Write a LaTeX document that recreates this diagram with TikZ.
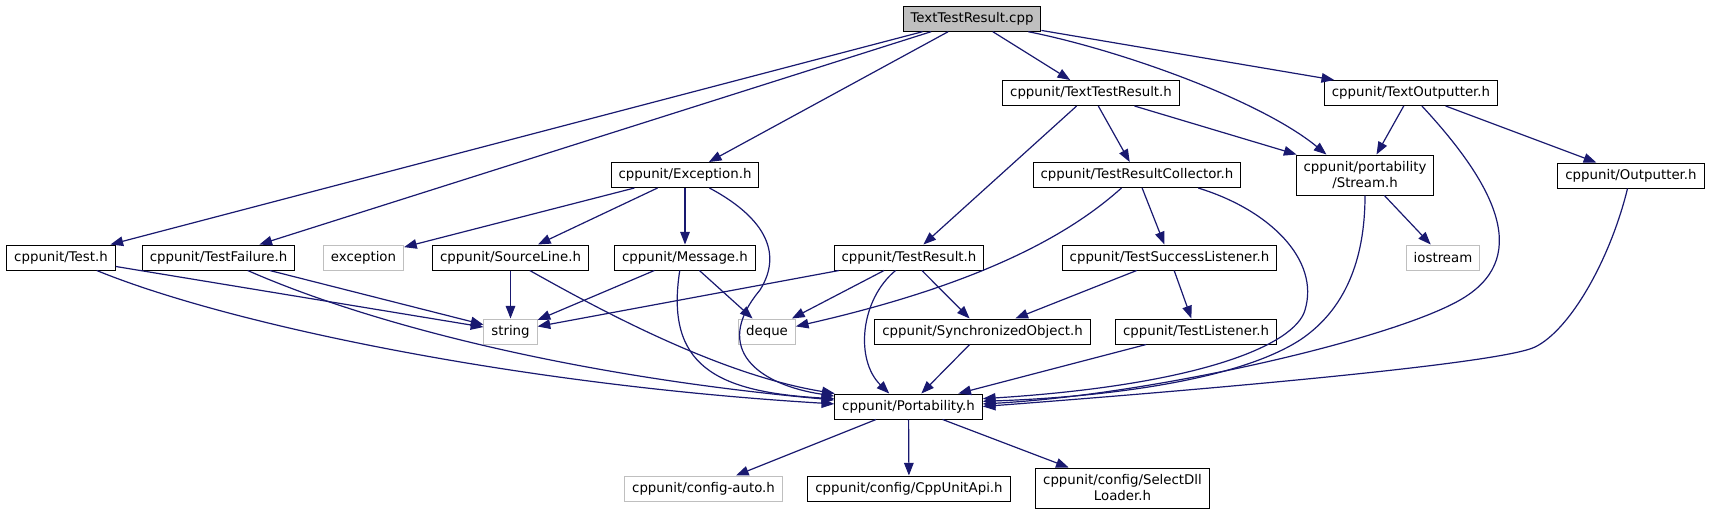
\documentclass[tikz,border=0pt]{standalone}
\usepackage{fontspec}
\setmainfont{DejaVu Sans}
\usepackage{xcolor}
\usetikzlibrary{arrows.meta}
\definecolor{GraphEdge}{HTML}{191970}
\definecolor{GraphGray}{HTML}{BFBFBF}
\newcommand{\FileLabel}{\fontsize{10}{12}\selectfont}
\tikzset{
  file box/.style={draw=black,line width=0.75pt,fill=white,inner xsep=5.6pt,inner ysep=2pt,
    minimum height=18.75pt,align=center,font=\FileLabel},
  ext box/.style={file box,draw=GraphGray},
  root box/.style={file box,fill=GraphGray},
  two line/.style={minimum height=30pt},
  include/.style={draw=GraphEdge,line width=0.9pt,-{Triangle[length=9.5pt,width=7.2pt]}}
}

\begin{document}
\begin{tikzpicture}[x=0.75pt,y=-0.75pt]
  % one unit = one pixel of the 1709 x 515 graph
  \path[use as bounding box,fill=white] (0,0) rectangle (1709,515);

  % rank 0 and 1
  \node[root box] (root) at (972,18.7) {TextTestResult.cpp};
  \node[file box] (ttr) at (1091,93) {cppunit/TextTestResult.h};
  \node[file box] (tout) at (1411,93) {cppunit/TextOutputter.h};

  % rank 2
  \node[file box] (exc) at (685,175) {cppunit/Exception.h};
  \node[file box] (trc) at (1137,175) {cppunit/TestResultCollector.h};
  \node[file box,two line] (stream) at (1365,175) {cppunit/portability\\/Stream.h};
  \node[file box] (outp) at (1631,175.5) {cppunit/Outputter.h};

  % rank 3
  \node[file box] (test) at (61,257.5) {cppunit/Test.h};
  \node[file box] (tfail) at (218.5,257.5) {cppunit/TestFailure.h};
  \node[ext box] (excstd) at (363.5,257.5) {exception};
  \node[file box] (srcline) at (510.5,257.5) {cppunit/SourceLine.h};
  \node[file box] (msg) at (685,257.5) {cppunit/Message.h};
  \node[file box] (tres) at (909,257.5) {cppunit/TestResult.h};
  \node[file box] (tsl) at (1169.5,257.5) {cppunit/TestSuccessListener.h};
  \node[ext box] (iostr) at (1443,257.5) {iostream};

  % rank 4
  \node[ext box] (str) at (510.5,331.5) {string};
  \node[ext box] (deq) at (767,331.5) {deque};
  \node[file box] (sync) at (982.5,331.5) {cppunit/SynchronizedObject.h};
  \node[file box] (tlis) at (1196,331.5) {cppunit/TestListener.h};

  % rank 5 and 6
  \node[file box] (port) at (908.5,406.5) {cppunit/Portability.h};
  \node[ext box] (cfgauto) at (703.5,488.5) {cppunit/config-auto.h};
  \node[file box] (api) at (909,488.5) {cppunit/config/CppUnitApi.h};
  \node[file box,two line] (dll) at (1122.5,488) {cppunit/config/SelectDll\\Loader.h};

  % straight includes
  \foreach \src/\dst in {root/test,root/tfail,root/exc,root/ttr,root/tout,
      ttr/tres,ttr/trc,ttr/stream,tout/stream,tout/outp,
      exc/excstd,exc/srcline,exc/msg,trc/tsl,stream/iostr,
      test/str,tfail/str,srcline/str,msg/str,msg/deq,
      tres/str,tres/deq,tres/sync,tsl/sync,tsl/tlis,
      sync/port,tlis/port,port/cfgauto,port/api,port/dll}
    \draw[include] (\src) -- (\dst);

  % curved includes
  \draw[include] (root.-13) .. controls (1120,50) and (1260,100) .. (stream.152);
  \draw[include] (tout.-50) .. controls (1500,190) and (1530,260) .. (1460,300)
    .. controls (1390,340) and (1150,395) .. (port.2);
  \draw[include] (exc.-28) .. controls (760,215) and (785,250) .. (760,290)
    .. controls (710,350) and (760,385) .. (port.172);
  \draw[include] (trc.-140) .. controls (1080,225) and (1000,280) .. (deq.10);
  \draw[include] (trc.-12) .. controls (1270,210) and (1320,260) .. (1305,310)
    .. controls (1295,345) and (1200,385) .. (port.6);
  \draw[include] (stream.south) .. controls (1365,260) and (1345,310) .. (1300,340)
    .. controls (1230,385) and (1080,398) .. (port.4);
  \draw[include] (outp.-105) .. controls (1610,260) and (1570,330) .. (1535,347)
    .. controls (1500,364) and (1200,390) .. (port.east);
  \draw[include] (test.-20) .. controls (230,325) and (520,385) .. (port.178);
  \draw[include] (tfail.-24) .. controls (360,320) and (560,375) .. (port.175);
  \draw[include] (srcline.-34) .. controls (600,310) and (720,375) .. (port.170);
  \draw[include] (msg.-112) .. controls (665,365) and (715,392) .. (port.174);
  \draw[include] (tres.-136) .. controls (860,300) and (855,360) .. (port.146);
\end{tikzpicture}
\end{document}
